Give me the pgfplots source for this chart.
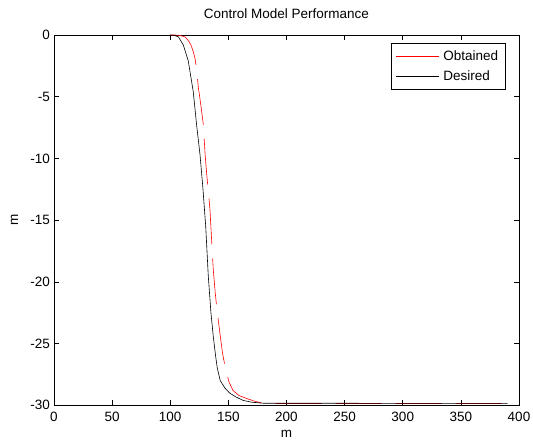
\documentclass[border=0pt]{standalone}
\usepackage{pgfplots}
\pgfplotsset{compat=1.18}
\usepackage{fontspec}
\setmainfont{Liberation Sans}
\begin{document}
\begin{tikzpicture}
\begin{axis}[
  scale only axis,
  width=465pt, height=370.3pt,
  xmin=0, xmax=400, ymin=-30, ymax=0,
  xtick={0,50,...,400}, ytick={-30,-25,...,0},
  tick align=inside, major tick length=5pt,
  xtick pos=both, ytick pos=both,
  xticklabel pos=lower, yticklabel pos=left,
  axis line style={line width=0.7pt},
  every tick/.style={line width=0.6pt, black},
  /pgf/number format/assume math mode=true,
  font=\fontsize{13.5}{16}\selectfont,
  tick label style={font=\fontsize{13.5}{16}\selectfont},
  xticklabel style={yshift=-3pt},
  yticklabel style={xshift=-0.5pt},
  title={Control Model Performance},
  title style={at={(axis description cs:0.5,1.0297)}, anchor=base, inner sep=0pt, font=\fontsize{13.5}{16}\selectfont},
  xlabel={m},
  xlabel style={at={(axis description cs:0.5,-0.0864)}, anchor=base, inner sep=0pt, font=\fontsize{13.5}{16}\selectfont},
  ylabel={m},
  ylabel style={at={(axis description cs:-0.0774,0.5)}, anchor=base, inner sep=0pt, font=\fontsize{13.5}{16}\selectfont},
  legend style={at={(axis description cs:1,1)}, anchor=north east, xshift=-13.5pt, yshift=-8pt,
    draw=black, line width=0.6pt, font=\fontsize{13.5}{16}\selectfont,
    inner xsep=5pt, inner ysep=5pt, row sep=5pt, column sep=0pt,
    nodes={inner sep=2pt}},
  legend cell align=left,
  legend image code/.code={\draw[#1, solid] (0pt,0pt) -- (43pt,0pt); \path (45pt,0pt);},
]
\addplot[red, line width=0.6pt, dash pattern=on 46pt off 14pt] coordinates {
(100,0) (104,0) (108,-0.03) (112.7,-0.15) (115.5,-0.45) (117.8,-0.8) (120,-1.4)
(121.3,-1.9) (122.7,-2.8) (124.1,-4.2) (126.5,-5.8) (128.5,-7.3) (130,-9.7)
(131.3,-11.2) (132.7,-12.6) (134.2,-14.2) (135.7,-16.8) (137,-19) (138.7,-20.9)
(140.5,-22.5) (142.5,-24) (145,-25.8) (147.7,-27.1) (150.5,-28.1) (154,-28.8)
(159,-29.2) (165.8,-29.45) (172,-29.65) (178,-29.8) (190,-29.85) (390,-29.85)
};
\addlegendentry{Obtained}
\addplot[black, line width=0.6pt] coordinates {
(100,0) (103,-0.02) (107,-0.15) (111.2,-0.8) (115.5,-2.1) (119.8,-4.6) (122.7,-7.3)
(125.6,-9.7) (128,-12.3) (130.5,-15.5) (132.7,-19.5) (135,-22.5) (137,-24.4)
(139,-26) (140.5,-27) (143,-28) (147,-28.6) (151,-29.0) (156,-29.3) (162.6,-29.6)
(170,-29.75) (180,-29.83) (390,-29.85)
};
\addlegendentry{Desired}
\end{axis}
\pgfresetboundingbox
\path[use as bounding box] ([shift={(-54pt,-39.7pt)}]current axis.south west) rectangle ([shift={(14pt,35pt)}]current axis.north east);
\end{tikzpicture}
\end{document}
